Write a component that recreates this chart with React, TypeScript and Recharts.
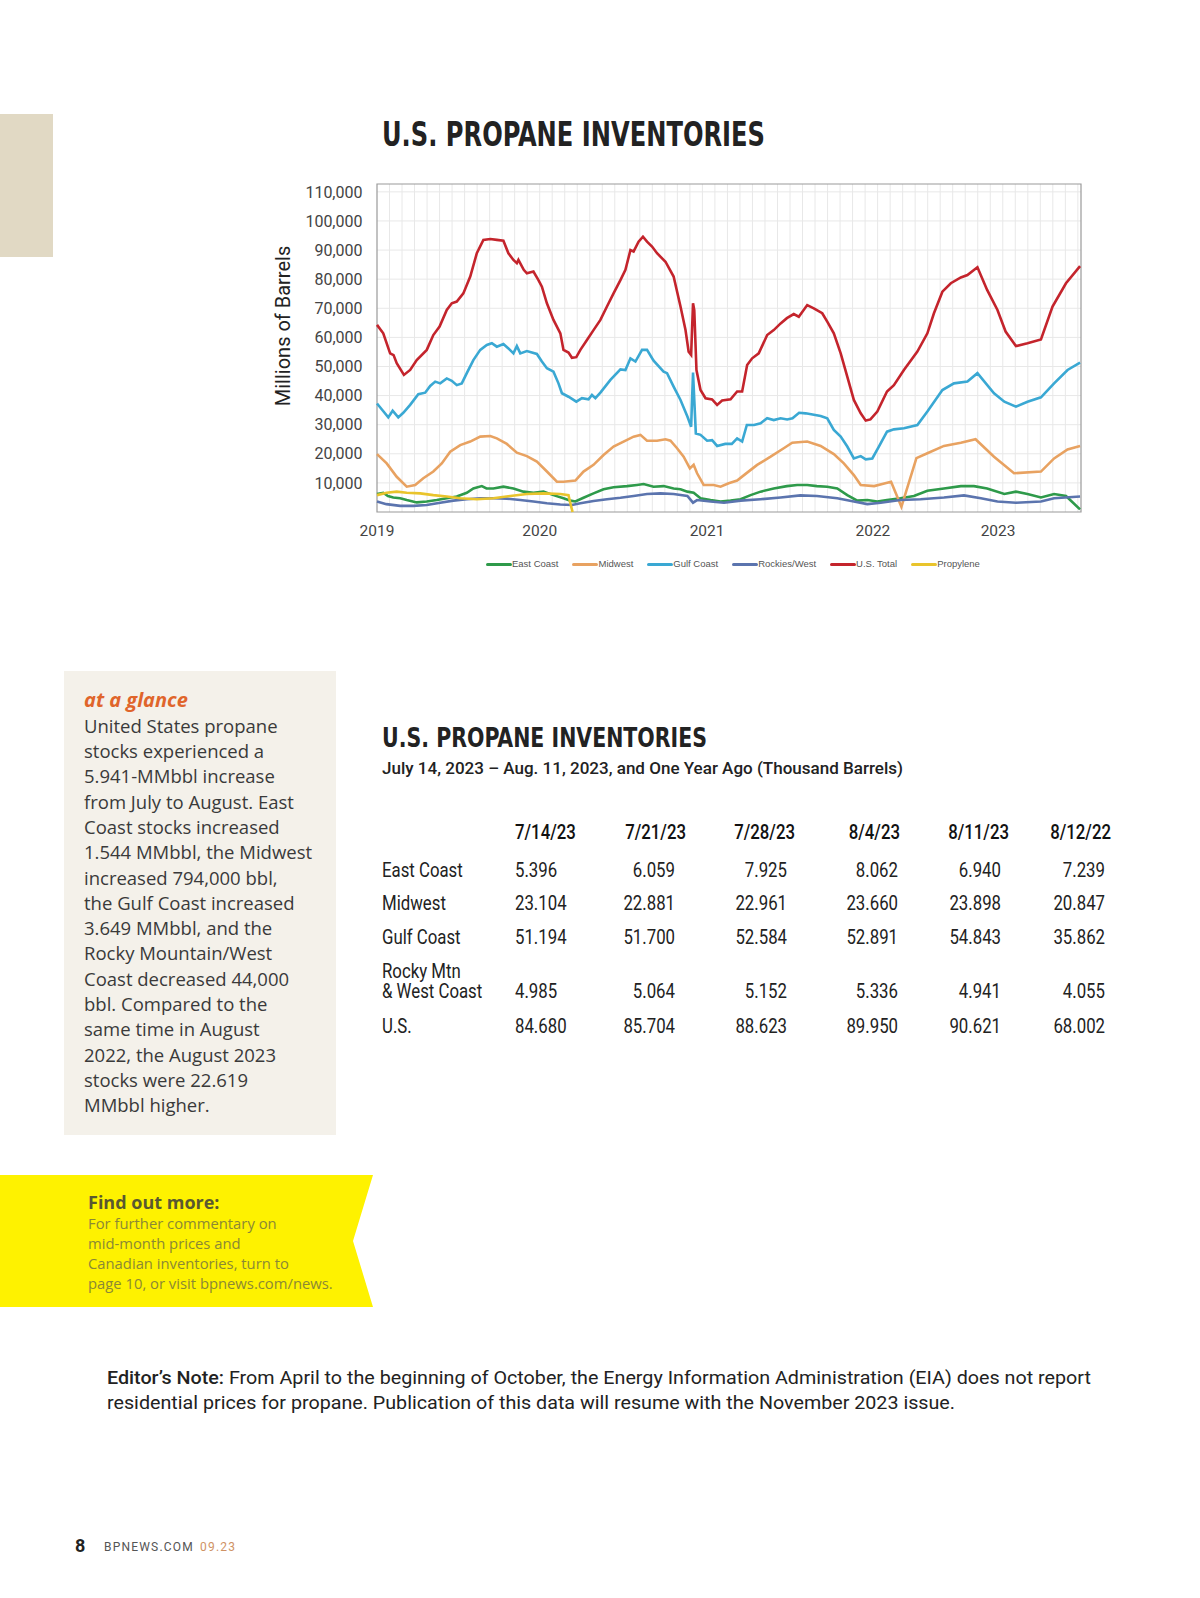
import React from "react";
import {
  CartesianGrid,
  Line,
  LineChart,
  ReferenceArea,
  XAxis,
  YAxis,
} from "recharts";

type Pt = [number, number]; // [week index since Jan 2019, thousand barrels / 1000]

const YEAR_TICKS = [0, 52, 105.5, 158.5, 198.5];
const YEAR_LABELS = ["2019", "2020", "2021", "2022", "2023"];
const Y_TICKS = [10, 20, 30, 40, 50, 60, 70, 80, 90, 100, 110];
const WEEK_MAX = 225;
const Y_MAX = 112.7;
const GRID_WEEKS = Array.from({ length: 56 }, (_, i) => (i + 1) * 4);

const EAST_COAST: Pt[] = [
  [0, 6.2], [2, 6.6], [3.5, 5.5], [5.2, 5.0], [7.4, 4.7], [9.5, 4.1], [12.7, 3.3],
  [15.9, 3.6], [19.1, 4.1], [22.3, 4.7], [25.5, 5.3], [28.7, 6.6], [30.8, 8.1],
  [33.5, 8.9], [35, 8.1], [37.2, 8.1], [40.4, 8.7], [43.6, 8.1], [46.8, 7.0],
  [50, 6.6], [53.2, 7.0], [56.4, 5.8], [59.6, 4.7], [61.8, 3.9], [63.4, 3.6],
  [66, 4.9], [69.2, 6.4], [72.4, 7.8], [75.6, 8.5], [79.9, 8.9], [83.1, 9.3],
  [85.2, 9.6], [88.4, 8.7], [91.6, 8.9], [94.8, 8.1], [97, 7.8], [99.2, 7.0],
  [101.2, 6.6], [103.4, 4.7], [106.6, 4.1], [109.8, 3.6], [113, 3.9], [116.2, 4.4],
  [119.4, 5.8], [122.6, 7.0], [126.8, 8.1], [131, 8.9], [134.3, 9.3], [137.5, 9.3],
  [140.6, 8.9], [143.9, 8.7], [147.1, 8.1], [150.3, 5.8], [153.5, 3.9], [156.7, 4.1],
  [159.9, 3.6], [163, 4.1], [167.3, 4.7], [171.6, 5.5], [175.9, 7.3], [181.2, 8.1],
  [186.6, 8.9], [190.8, 8.9], [195, 8.1], [200.5, 6.2], [204.2, 7.0], [207.9, 6.2],
  [212.2, 5.0], [216.4, 6.2], [220.2, 5.5], [224.7, 0.9],
];

const MIDWEST: Pt[] = [
  [0, 19.9], [3.1, 16.7], [6.3, 12.1], [9.5, 8.7], [12.2, 9.3], [14.8, 11.6],
  [18, 13.9], [20.7, 16.7], [23.4, 20.7], [26.6, 23.0], [29.8, 24.2], [33, 25.9],
  [36.2, 26.1], [38.3, 25.3], [41.5, 23.4], [44.7, 20.4], [47.9, 19.2], [51.1, 17.3],
  [54.3, 13.9], [57.5, 10.4], [59.6, 10.4], [63.4, 10.8], [66, 13.9], [69.2, 16.2],
  [72.4, 19.6], [75.6, 22.5], [78.8, 24.2], [82, 25.9], [84.2, 26.5], [86.3, 24.5],
  [89.5, 24.5], [92.2, 25.0], [93.8, 24.5], [95.9, 21.9], [98, 19.0], [100, 15.0],
  [101.2, 16.2], [102.3, 13.3], [104.4, 9.3], [107.6, 9.3], [109.8, 8.7], [112.4, 9.9],
  [115.1, 10.8], [117.8, 13.1], [121.5, 16.2], [125.8, 19.0], [130, 21.9], [132.7, 23.8],
  [137.5, 24.2], [141.8, 22.7], [146, 19.9], [149.2, 16.7], [152.4, 12.7], [154.6, 9.3],
  [158.9, 8.9], [161.5, 9.6], [164.3, 10.4], [167.6, 1.8], [172.4, 18.5], [175.9, 20.2],
  [181.2, 22.7], [186.6, 23.8], [191.3, 25.0], [197.2, 19.0], [203.6, 13.3],
  [212.2, 13.9], [216.4, 18.4], [220.7, 21.5], [224.7, 22.7],
];

const GULF_COAST: Pt[] = [
  [0, 37.3], [1.5, 35.3], [3.6, 32.5], [5, 34.8], [6.8, 32.5], [8.4, 34.1], [10.6, 36.8],
  [13.2, 40.5], [15.4, 41.0], [17, 43.3], [18.6, 44.8], [20.2, 44.2], [22.3, 45.9],
  [23.9, 45.1], [25.5, 43.6], [27.1, 44.2], [28.7, 47.7], [30.8, 52.2], [33, 55.7],
  [35.1, 57.4], [36.7, 58.0], [38.3, 56.8], [40.4, 57.7], [42, 56.2], [43.6, 54.5],
  [44.7, 57.0], [45.8, 54.5], [47.9, 55.3], [49.5, 54.8], [51.1, 54.3], [52.7, 51.7],
  [54.3, 49.4], [56.4, 48.2], [58, 44.2], [59.1, 40.8], [61.2, 39.6], [63.7, 37.9],
  [65.5, 39.1], [67.6, 38.7], [68.7, 40.2], [69.8, 39.1], [71.4, 41.0], [74.6, 45.4],
  [77.8, 49.0], [79.4, 48.8], [81, 52.8], [82.6, 51.7], [84.7, 55.7], [86.3, 55.7],
  [88.4, 52.0], [91.6, 48.2], [92.7, 47.7], [94.8, 43.1], [97, 38.5], [99.2, 32.8],
  [100.4, 29.3], [101, 47.9], [101.9, 27.0], [103.4, 26.5], [105.5, 24.5], [107.1, 24.7],
  [108.7, 22.7], [111.3, 23.4], [113.4, 23.4], [115.1, 25.3], [116.7, 24.2], [118.2, 29.9],
  [120.5, 29.9], [122.6, 30.5], [124.7, 32.2], [126.8, 31.6], [129, 32.2], [131.1, 31.8],
  [132.8, 32.2], [134.9, 34.1], [137, 33.9], [141.8, 33.0], [143.9, 32.2], [146, 28.2],
  [148.2, 25.9], [150.3, 22.5], [152.4, 18.4], [154.6, 19.2], [156.2, 18.1], [158.3, 18.4],
  [160.4, 22.5], [163, 27.6], [165.2, 28.4], [168.4, 28.8], [172.7, 29.9], [175.9, 34.5],
  [180.7, 41.9], [184.4, 44.2], [188.7, 44.8], [191.9, 47.7], [197.2, 40.8], [200.5, 37.9],
  [204.2, 36.2], [207.9, 37.9], [212.2, 39.4], [216.4, 44.2], [220.7, 48.8], [224.7, 51.3],
];

const ROCKIES_WEST: Pt[] = [
  [0, 3.6], [3, 2.7], [7.4, 2.1], [11.7, 2.1], [15.9, 2.4], [20.2, 3.2], [24.4, 3.9],
  [28.7, 4.4], [33, 4.7], [37.2, 4.7], [41.5, 4.6], [45.8, 4.1], [50, 3.6], [54.3, 3.0],
  [58.6, 2.6], [62.3, 2.4], [65, 3.0], [69.2, 3.8], [73.5, 4.4], [77.8, 4.9], [82, 5.5],
  [86.3, 6.2], [90.6, 6.4], [94.8, 6.2], [99.2, 5.5], [101, 3.2], [102.3, 4.1],
  [106.6, 3.6], [110.9, 3.2], [116.2, 3.9], [122.6, 4.4], [129, 5.0], [135.3, 5.7],
  [140.6, 5.5], [147.1, 4.7], [152.4, 3.6], [156.7, 2.7], [161, 3.2], [167.3, 4.1],
  [173.7, 4.4], [181.2, 5.0], [187.6, 5.7], [193, 4.7], [198.3, 3.6], [204.2, 3.2],
  [212.2, 3.6], [216.4, 4.7], [224.7, 5.3],
];

const US_TOTAL: Pt[] = [
  [0, 64.3], [2, 61.4], [4.2, 54.5], [5.3, 53.9], [6.3, 51.1], [8.6, 47.1], [10.6, 48.8],
  [12.7, 52.2], [15.9, 55.7], [18, 60.8], [20, 63.7], [22.3, 69.4], [23.9, 71.7],
  [25.5, 72.3], [27.6, 75.1], [29.8, 80.9], [31.9, 88.9], [34, 93.5], [36.2, 93.8],
  [38.3, 93.5], [40.4, 93.2], [42, 88.9], [43.6, 86.6], [44.7, 85.5], [45.2, 86.6],
  [46.9, 83.2], [47.9, 82.0], [50, 82.6], [51.6, 79.7], [52.7, 77.4], [54.3, 71.7],
  [56.4, 66.0], [58.6, 61.4], [59.6, 55.7], [61.2, 54.8], [62.3, 53.0], [63.7, 53.2],
  [65, 55.7], [67.1, 59.1], [69.2, 62.5], [71.4, 66.0], [73.5, 70.6], [75.6, 75.1],
  [77.8, 79.7], [79.4, 83.2], [81, 90.0], [82, 89.5], [83.6, 92.9], [85, 94.6],
  [86.3, 92.9], [87.9, 91.2], [89.5, 88.9], [92.2, 86.0], [94.8, 80.9], [97, 70.6],
  [98.6, 62.5], [99.6, 55.1], [100.4, 54.0], [101, 71.7], [101.4, 69.4], [102.1, 48.8],
  [103.4, 41.9], [105, 39.1], [107.1, 38.7], [108.7, 36.8], [110.3, 38.3], [113, 38.7],
  [115.1, 41.4], [116.7, 41.4], [118.3, 50.5], [119.9, 52.8], [122, 54.5], [124.7, 60.8],
  [126.8, 62.5], [129, 64.8], [131, 66.6], [133.2, 68.0], [134.8, 67.1], [137.5, 71.1],
  [139.6, 70.0], [142.3, 68.3], [143.9, 65.4], [146, 61.4], [148.2, 54.5], [150.3, 46.5],
  [152.4, 38.5], [154.6, 33.9], [156.2, 31.4], [157.7, 31.8], [159.9, 34.5], [163, 41.4],
  [165.2, 43.6], [168.4, 48.8], [172.7, 55.1], [175.9, 61.4], [178, 68.3], [180.7, 75.7],
  [183.4, 78.6], [186.6, 80.6], [188.7, 81.4], [191.9, 84.1], [195, 76.3], [198.3, 69.4],
  [200.9, 62.0], [204.2, 57.0], [207.9, 58.0], [212.2, 59.3], [215.9, 70.6], [220.2, 78.6],
  [224.7, 84.5],
];

const PROPYLENE: Pt[] = [
  [0, 5.8], [3.1, 6.6], [6.3, 7.0], [9.5, 6.6], [13.8, 6.4], [18, 5.8], [22.3, 5.3],
  [26.6, 4.7], [31.9, 4.4], [37.2, 4.7], [42.6, 5.5], [47.9, 6.2], [53.2, 6.4],
  [58.6, 6.2], [61.2, 5.8], [61.8, 3.0], [62.5, 0],
];

const SERIES = [
  { name: "East Coast", points: EAST_COAST, color: "#2e9a4a" },
  { name: "Midwest", points: MIDWEST, color: "#e8a261" },
  { name: "Gulf Coast", points: GULF_COAST, color: "#3aa8d3" },
  { name: "Rockies/West", points: ROCKIES_WEST, color: "#5b74ae" },
  { name: "U.S. Total", points: US_TOTAL, color: "#c4242c" },
  { name: "Propylene", points: PROPYLENE, color: "#e9c42c" },
];

// table: thousand barrels
const TABLE_DATES = ["7/14/23", "7/21/23", "7/28/23", "8/4/23", "8/11/23", "8/12/22"];
const ROW_EAST = [5.396, 6.059, 7.925, 8.062, 6.94, 7.239];
const ROW_MIDWEST = [23.104, 22.881, 22.961, 23.66, 23.898, 20.847];
const ROW_GULF = [51.194, 51.7, 52.584, 52.891, 54.843, 35.862];
const ROW_ROCKY = [4.985, 5.064, 5.152, 5.336, 4.941, 4.055];
const ROW_US = [84.68, 85.704, 88.623, 89.95, 90.621, 68.002];
const TABLE_ROWS = [
  { label: ["East Coast"], values: ROW_EAST },
  { label: ["Midwest"], values: ROW_MIDWEST },
  { label: ["Gulf Coast"], values: ROW_GULF },
  { label: ["Rocky Mtn", "& West Coast"], values: ROW_ROCKY },
  { label: ["U.S."], values: ROW_US },
];

const GLANCE_LINES = [
  "United States propane",
  "stocks experienced a",
  "5.941-MMbbl increase",
  "from July to August. East",
  "Coast stocks increased",
  "1.544 MMbbl, the Midwest",
  "increased 794,000 bbl,",
  "the Gulf Coast increased",
  "3.649 MMbbl, and the",
  "Rocky Mountain/West",
  "Coast decreased 44,000",
  "bbl. Compared to the",
  "same time in August",
  "2022, the August 2023",
  "stocks were 22.619",
  "MMbbl higher.",
];

const MORE_LINES = [
  "For further commentary on",
  "mid-month prices and",
  "Canadian inventories, turn to",
  "page 10, or visit bpnews.com/news.",
];

const NARROW = "'Liberation Sans Narrow', 'DejaVu Sans Condensed', Roboto, sans-serif";
const OPEN = "'Open Sans', Roboto, sans-serif";
const ROBOTO = "Roboto, 'Open Sans', sans-serif";

// table layout (page px)
const TBL_FIRST_X = 515;
const TBL_VALUE_RIGHT = [0, 675, 787, 898, 1001, 1105];
const TBL_HEAD_RIGHT = [0, 686, 795, 900, 1009, 1111];
const TBL_ROW_BASE = [877, 910, 944, 998, 1033];
const TBL_SQUEEZE = 0.8;

function Cell({
  x,
  y,
  anchor = "start",
  weight = 400,
  color = "#222",
  children,
}: {
  x: number;
  y: number;
  anchor?: "start" | "end";
  weight?: number;
  color?: string;
  children: React.ReactNode;
}) {
  return (
    <text
      transform={`translate(${x},${y}) scale(${TBL_SQUEEZE},1)`}
      textAnchor={anchor}
      fontFamily={ROBOTO}
      fontWeight={weight}
      fontSize={21}
      fill={color}
    >
      {children}
    </text>
  );
}

function Page() {
  return (
    <svg
      width={1200}
      height={1598}
      style={{ position: "absolute", left: 0, top: 0 }}
    >
      <rect x={0} y={114} width={53} height={143} fill="#e1d9c4" />
      <rect x={64} y={671} width={272} height={464} fill="#f4f1ea" />
      <polygon
        points="0,1175 373,1175 353,1241 373,1307 0,1307"
        fill="#fef200"
      />

      <text
        x={382}
        y={146}
        fontFamily={NARROW}
        fontWeight={700}
        fontSize={33.5}
        textLength={383}
        lengthAdjust="spacingAndGlyphs"
        fill="#222"
      >
        U.S. PROPANE INVENTORIES
      </text>

      <text
        transform="translate(290,326) rotate(-90)"
        textAnchor="middle"
        fontFamily={ROBOTO}
        fontSize={20}
        fill="#222"
      >
        Millions of Barrels
      </text>

      {/* at a glance */}
      <text
        x={84}
        y={707}
        fontFamily={OPEN}
        fontWeight={700}
        fontStyle="italic"
        fontSize={20}
        fill="#e0652b"
      >
        at a glance
      </text>
      {GLANCE_LINES.map((line, i) => (
        <text
          key={line}
          x={84}
          y={732.7 + 25.3 * i}
          fontFamily={OPEN}
          fontSize={18.5}
          fill="#3a3a3a"
        >
          {line}
        </text>
      ))}

      {/* table */}
      <text
        x={382}
        y={747}
        fontFamily={NARROW}
        fontWeight={700}
        fontSize={26.5}
        textLength={325}
        lengthAdjust="spacingAndGlyphs"
        fill="#222"
      >
        U.S. PROPANE INVENTORIES
      </text>
      <text
        x={382}
        y={774}
        fontFamily={ROBOTO}
        fontWeight={500}
        fontSize={17}
        textLength={521}
        lengthAdjust="spacingAndGlyphs"
        fill="#222"
      >
        July 14, 2023 – Aug. 11, 2023, and One Year Ago (Thousand Barrels)
      </text>
      {TABLE_DATES.map((d, i) => (
        <Cell
          key={d}
          x={i === 0 ? TBL_FIRST_X : TBL_HEAD_RIGHT[i]}
          y={839}
          anchor={i === 0 ? "start" : "end"}
          weight={500}
          color="#111"
        >
          {d}
        </Cell>
      ))}
      {TABLE_ROWS.map((row, r) => (
        <g key={row.label.join(" ")}>
          {row.label.map((l, k) => (
            <Cell
              key={l}
              x={382}
              y={TBL_ROW_BASE[r] - (row.label.length - 1 - k) * 20.5}
            >
              {l}
            </Cell>
          ))}
          {row.values.map((v, i) => (
            <Cell
              key={i}
              x={i === 0 ? TBL_FIRST_X : TBL_VALUE_RIGHT[i]}
              y={TBL_ROW_BASE[r]}
              anchor={i === 0 ? "start" : "end"}
            >
              {v.toFixed(3)}
            </Cell>
          ))}
        </g>
      ))}

      {/* find out more */}
      <text x={88} y={1209} fontFamily={OPEN} fontWeight={700} fontSize={18} fill="#5a5830">
        Find out more:
      </text>
      {MORE_LINES.map((line, i) => (
        <text
          key={line}
          x={88}
          y={1229 + 20 * i}
          fontFamily={OPEN}
          fontSize={14.8}
          fill="#8b8835"
        >
          {line}
        </text>
      ))}

      {/* editor's note */}
      <text
        x={107}
        y={1384}
        fontFamily={ROBOTO}
        fontSize={17.5}
        textLength={984}
        lengthAdjust="spacingAndGlyphs"
        fill="#222"
      >
        <tspan fontWeight={500}>Editor’s Note:</tspan> From April to the beginning
        of October, the Energy Information Administration (EIA) does not report
      </text>
      <text
        x={107}
        y={1409}
        fontFamily={ROBOTO}
        fontSize={17.5}
        textLength={848}
        lengthAdjust="spacingAndGlyphs"
        fill="#222"
      >
        residential prices for propane. Publication of this data will resume
        with the November 2023 issue.
      </text>

      {/* footer */}
      <text x={75} y={1552} fontFamily={ROBOTO} fontWeight={700} fontSize={18} fill="#222">
        8
      </text>
      <text x={104} y={1551} fontFamily={ROBOTO} fontSize={12} letterSpacing={1.2} fill="#555">
        BPNEWS.COM
      </text>
      <text x={200} y={1551} fontFamily={ROBOTO} fontSize={12} letterSpacing={1.2} fill="#cf9264">
        09.23
      </text>
    </svg>
  );
}

function InventoryChart() {
  return (
    <div style={{ position: "absolute", left: 260, top: 170 }}>
      <LineChart
        width={840}
        height={400}
        margin={{ top: 14, right: 19, bottom: 28, left: 57 }}
      >
        <CartesianGrid
          stroke="#e8e8e8"
          strokeWidth={1}
          verticalValues={GRID_WEEKS}
          horizontalValues={Y_TICKS}
        />
        <XAxis
          type="number"
          dataKey="w"
          domain={[0, WEEK_MAX]}
          ticks={YEAR_TICKS}
          tickFormatter={(v) => YEAR_LABELS[YEAR_TICKS.indexOf(v)] ?? ""}
          axisLine={false}
          tickLine={false}
          tickSize={0}
          tickMargin={13}
          height={30}
          interval={0}
          tick={{ fontSize: 15.5, fill: "#444", fontFamily: "Roboto" }}
        />
        <YAxis
          type="number"
          domain={[0, Y_MAX]}
          ticks={Y_TICKS}
          tickFormatter={(v) => (v * 1000).toLocaleString("en-US")}
          axisLine={false}
          tickLine={false}
          tickSize={0}
          tickMargin={14.5}
          width={60}
          interval={0}
          tick={{ fontSize: 16, fill: "#444", fontFamily: "Roboto" }}
        />
        {SERIES.map((s) => (
          <Line
            key={s.name}
            data={s.points.map(([w, v]) => ({ w, v }))}
            dataKey="v"
            name={s.name}
            type="linear"
            stroke={s.color}
            strokeWidth={2.6}
            dot={false}
            activeDot={false}
            isAnimationActive={false}
          />
        ))}
        <ReferenceArea
          x1={0}
          x2={WEEK_MAX}
          y1={0}
          y2={Y_MAX}
          fill="none"
          fillOpacity={0}
          stroke="#9a9a9a"
          strokeWidth={1.2}
        />
      </LineChart>
      {/* legend */}
      <div
        style={{
          position: "absolute",
          left: 226,
          top: 388,
          display: "flex",
          alignItems: "center",
          gap: 14,
          fontFamily: "'Liberation Sans', Arial, sans-serif",
          fontSize: 9.5,
          lineHeight: "12px",
          color: "#555",
          whiteSpace: "nowrap",
        }}
      >
        {SERIES.map((s) => (
          <div key={s.name} style={{ display: "flex", alignItems: "center" }}>
            <span
              style={{
                display: "inline-block",
                width: 26,
                height: 3,
                borderRadius: 1.5,
                background: s.color,
              }}
            />
            <span>{s.name}</span>
          </div>
        ))}
      </div>
    </div>
  );
}

export default function App() {
  return (
    <div
      style={{
        position: "relative",
        width: 1200,
        height: 1598,
        background: "#fff",
        overflow: "hidden",
      }}
    >
      <style>{`body{margin:0}`}</style>
      <Page />
      <InventoryChart />
    </div>
  );
}
